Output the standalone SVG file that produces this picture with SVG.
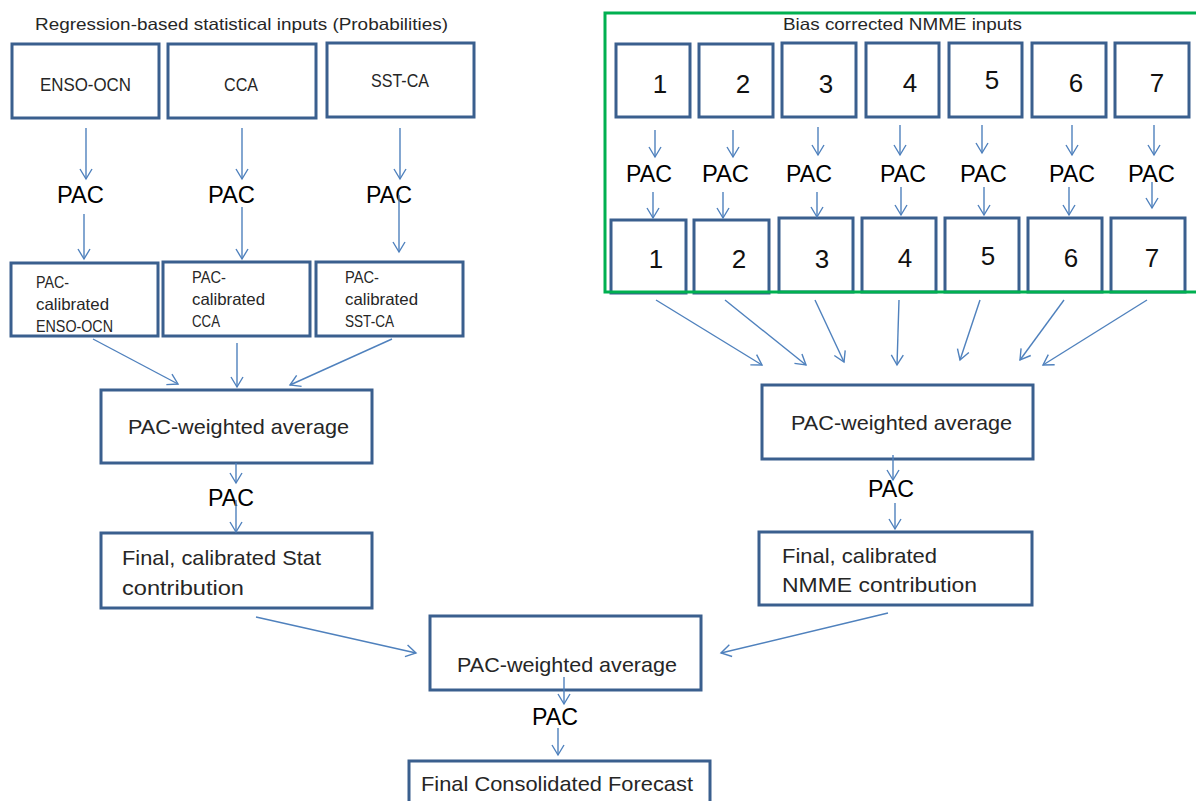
<svg xmlns="http://www.w3.org/2000/svg" width="1196" height="801" viewBox="0 0 1196 801">
<style>
.box{fill:#fff;stroke:#3A5F8E;stroke-width:3}
.c{stroke:#4F81BD;stroke-width:1.4;fill:none;marker-end:url(#ah)}
text{font-family:"Liberation Sans",Arial,sans-serif;fill:#262626}
.pac{font-size:24px;fill:#000}
.num{font-size:26px;fill:#111;text-anchor:middle}
.lbl{font-size:18px}
.sm{font-size:16.5px}
.big{font-size:21px}
.ttl{font-size:16.5px}
</style>
<defs>
<marker id="ah" markerUnits="userSpaceOnUse" markerWidth="14" markerHeight="14" viewBox="-11 -7 13 14" refX="0" refY="0" orient="auto">
<path d="M-10,-6 L0,0 L-10,6" fill="none" stroke="#4F81BD" stroke-width="1.4"/>
</marker>
</defs>
<rect width="1196" height="801" fill="#fff"/>

<text class="ttl" x="35" y="30" textLength="413" lengthAdjust="spacingAndGlyphs">Regression-based statistical inputs (Probabilities)</text>

<g id="enso"><rect class="box" x="12" y="44" width="147" height="74"/><text class="lbl" x="40" y="91" textLength="91" lengthAdjust="spacingAndGlyphs">ENSO-OCN</text></g>
<g id="cca"><rect class="box" x="168" y="44" width="148" height="74"/><text class="lbl" x="224" y="91" textLength="34" lengthAdjust="spacingAndGlyphs">CCA</text></g>
<g id="sstca"><rect class="box" x="327" y="43" width="147" height="74"/><text class="lbl" x="371" y="87" textLength="58" lengthAdjust="spacingAndGlyphs">SST-CA</text></g>

<g id="pac-enso"><rect class="box" x="11" y="263" width="147" height="73"/>
<text class="sm" x="36" y="288" textLength="33" lengthAdjust="spacingAndGlyphs">PAC-</text>
<text class="sm" x="36" y="310" textLength="73" lengthAdjust="spacingAndGlyphs">calibrated</text>
<text class="sm" x="36" y="332" textLength="77" lengthAdjust="spacingAndGlyphs">ENSO-OCN</text></g>
<g id="pac-cca"><rect class="box" x="163" y="262" width="147" height="74"/>
<text class="sm" x="192" y="283" textLength="34" lengthAdjust="spacingAndGlyphs">PAC-</text>
<text class="sm" x="192" y="305" textLength="73" lengthAdjust="spacingAndGlyphs">calibrated</text>
<text class="sm" x="192" y="327" textLength="28" lengthAdjust="spacingAndGlyphs">CCA</text></g>
<g id="pac-sstca"><rect class="box" x="316" y="262" width="147" height="74"/>
<text class="sm" x="345" y="283" textLength="34" lengthAdjust="spacingAndGlyphs">PAC-</text>
<text class="sm" x="345" y="305" textLength="73" lengthAdjust="spacingAndGlyphs">calibrated</text>
<text class="sm" x="345" y="327" textLength="49" lengthAdjust="spacingAndGlyphs">SST-CA</text></g>

<g id="wavg-stat"><rect class="box" x="101" y="390" width="271" height="73"/><text class="big" x="128" y="434" textLength="221" lengthAdjust="spacingAndGlyphs">PAC-weighted average</text></g>
<g id="final-stat"><rect class="box" x="101" y="533" width="271" height="75"/>
<text class="big" x="122" y="565" textLength="199" lengthAdjust="spacingAndGlyphs">Final, calibrated Stat</text>
<text class="big" x="122" y="595" textLength="122" lengthAdjust="spacingAndGlyphs">contribution</text></g>

<g id="nmme-top">
<rect class="box" x="616" y="44" width="74" height="73"/><text class="num" x="660" y="93">1</text>
<rect class="box" x="699" y="44" width="74" height="73"/><text class="num" x="743" y="93">2</text>
<rect class="box" x="782" y="43" width="74" height="74"/><text class="num" x="826" y="93">3</text>
<rect class="box" x="866" y="43" width="73" height="74"/><text class="num" x="910" y="92">4</text>
<rect class="box" x="949" y="43" width="73" height="74"/><text class="num" x="992" y="89">5</text>
<rect class="box" x="1032" y="43" width="74" height="74"/><text class="num" x="1076" y="92">6</text>
<rect class="box" x="1115" y="43" width="74" height="74"/><text class="num" x="1157" y="92">7</text>
</g>
<g id="nmme-bottom">
<rect class="box" x="611" y="220" width="75" height="73"/><text class="num" x="656" y="268">1</text>
<rect class="box" x="694" y="220" width="75" height="73"/><text class="num" x="739" y="268">2</text>
<rect class="box" x="779" y="218" width="74" height="74"/><text class="num" x="822" y="268">3</text>
<rect class="box" x="862" y="218" width="74" height="74"/><text class="num" x="905" y="267">4</text>
<rect class="box" x="945" y="218" width="74" height="74"/><text class="num" x="988" y="265">5</text>
<rect class="box" x="1028" y="218" width="74" height="74"/><text class="num" x="1071" y="267">6</text>
<rect class="box" x="1111" y="218" width="74" height="74"/><text class="num" x="1152" y="267">7</text>
</g>
<g id="nmme-frame">
<rect x="605" y="13" width="600" height="279" fill="none" stroke="#00B050" stroke-width="3"/>
<text class="ttl" x="783" y="30" textLength="239" lengthAdjust="spacingAndGlyphs">Bias corrected NMME inputs</text>
</g>

<g id="wavg-nmme"><rect class="box" x="762" y="385" width="271" height="74"/><text class="big" x="791" y="430" textLength="221" lengthAdjust="spacingAndGlyphs">PAC-weighted average</text></g>
<g id="final-nmme"><rect class="box" x="759" y="532" width="273" height="73"/>
<text class="big" x="782" y="563" textLength="155" lengthAdjust="spacingAndGlyphs">Final, calibrated</text>
<text class="big" x="782" y="592" textLength="195" lengthAdjust="spacingAndGlyphs">NMME contribution</text></g>

<g id="wavg-all"><rect class="box" x="430" y="616" width="271" height="74"/><text class="big" x="457" y="672" textLength="220" lengthAdjust="spacingAndGlyphs">PAC-weighted average</text></g>
<g id="final"><rect class="box" x="409" y="761" width="301" height="50"/><text class="big" x="421" y="791" textLength="272" lengthAdjust="spacingAndGlyphs">Final Consolidated Forecast</text></g>

<g id="pac-labels">
<text class="pac" x="57" y="203" textLength="47" lengthAdjust="spacingAndGlyphs">PAC</text>
<text class="pac" x="208" y="203" textLength="47" lengthAdjust="spacingAndGlyphs">PAC</text>
<text class="pac" x="366" y="203" textLength="46" lengthAdjust="spacingAndGlyphs">PAC</text>
<text class="pac" x="208" y="506" textLength="46" lengthAdjust="spacingAndGlyphs">PAC</text>
<text class="pac" x="868" y="497" textLength="46" lengthAdjust="spacingAndGlyphs">PAC</text>
<text class="pac" x="532" y="725" textLength="46" lengthAdjust="spacingAndGlyphs">PAC</text>
<text class="pac" x="626" y="182" textLength="46" lengthAdjust="spacingAndGlyphs">PAC</text>
<text class="pac" x="702" y="182" textLength="47" lengthAdjust="spacingAndGlyphs">PAC</text>
<text class="pac" x="786" y="182" textLength="46" lengthAdjust="spacingAndGlyphs">PAC</text>
<text class="pac" x="880" y="182" textLength="46" lengthAdjust="spacingAndGlyphs">PAC</text>
<text class="pac" x="960" y="182" textLength="47" lengthAdjust="spacingAndGlyphs">PAC</text>
<text class="pac" x="1049" y="182" textLength="46" lengthAdjust="spacingAndGlyphs">PAC</text>
<text class="pac" x="1128" y="182" textLength="47" lengthAdjust="spacingAndGlyphs">PAC</text>
</g>

<g id="connectors">
<path class="c" d="M86,128 L86,179"/>
<path class="c" d="M84,214 L84,259"/>
<path class="c" d="M242,128 L242,179"/>
<path class="c" d="M242,207 L242,259"/>
<path class="c" d="M400,128 L400,179"/>
<path class="c" d="M399,195 L399,252"/>
<path class="c" d="M93,339 L178,384"/>
<path class="c" d="M237,343 L237,387"/>
<path class="c" d="M392,339 L290,385"/>
<path class="c" d="M236,463 L236,483"/>
<path class="c" d="M236,500 L236,532"/>
<path class="c" d="M655,130 L655,157"/>
<path class="c" d="M733,130 L733,157"/>
<path class="c" d="M818,127 L818,155"/>
<path class="c" d="M900,125 L900,155"/>
<path class="c" d="M982,125 L982,153"/>
<path class="c" d="M1072,125 L1072,155"/>
<path class="c" d="M1154,125 L1154,155"/>
<path class="c" d="M653,192 L653,218"/>
<path class="c" d="M723,192 L723,218"/>
<path class="c" d="M817,192 L817,217"/>
<path class="c" d="M901,187 L901,215"/>
<path class="c" d="M984,187 L984,215"/>
<path class="c" d="M1069,187 L1069,215"/>
<path class="c" d="M1152,182 L1152,208"/>
<path class="c" d="M656,300 L762,365"/>
<path class="c" d="M725,300 L806,365"/>
<path class="c" d="M815,300 L844,362"/>
<path class="c" d="M899,300 L897,365"/>
<path class="c" d="M980,300 L960,360"/>
<path class="c" d="M1064,300 L1020,360"/>
<path class="c" d="M1147,300 L1043,365"/>
<path class="c" d="M893,455 L893,480"/>
<path class="c" d="M895,503 L895,529"/>
<path class="c" d="M256,617 L416,653"/>
<path class="c" d="M888,613 L721,653"/>
<path class="c" d="M564,677 L564,704"/>
<path class="c" d="M558,728 L558,755"/>
</g>
</svg>
